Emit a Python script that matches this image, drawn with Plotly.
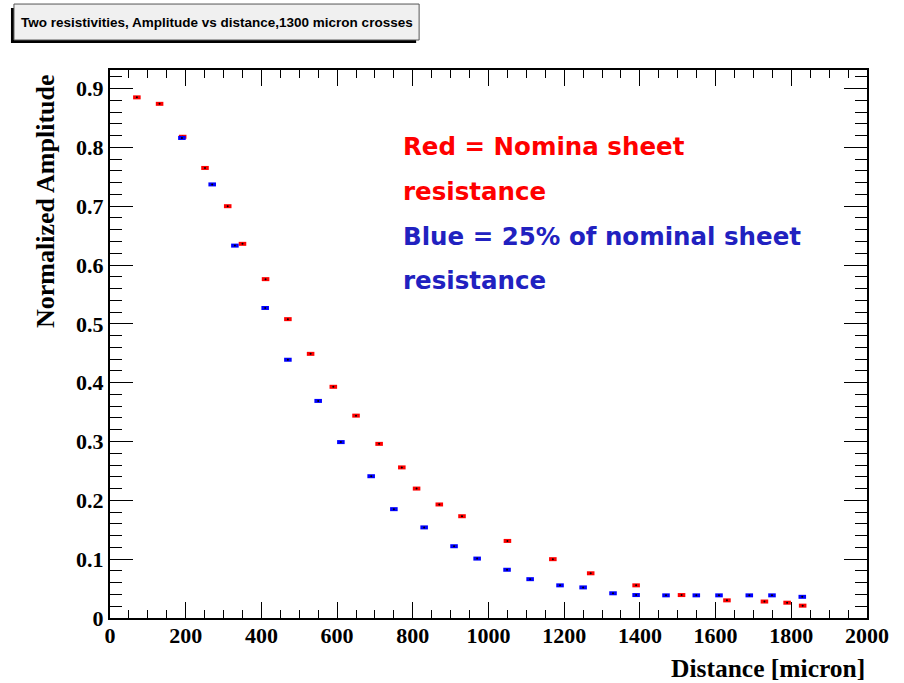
import plotly.graph_objects as go

# ---- data ----
red_x = [71, 131, 192, 251, 311, 350, 411, 470, 530, 590, 650, 711, 771, 810, 870, 930,
         1050, 1170, 1270, 1390, 1510, 1630, 1729, 1789, 1830]
red_y = [0.885, 0.874, 0.818, 0.765, 0.700, 0.636, 0.576, 0.508, 0.449, 0.393, 0.344, 0.296,
         0.256, 0.220, 0.193, 0.173, 0.131, 0.100, 0.076, 0.0555, 0.039, 0.030, 0.028, 0.026, 0.021]
blue_x = [190, 270, 330, 410, 470, 550, 610, 690, 750, 830, 909, 970, 1049, 1110, 1189, 1250,
          1329, 1390, 1469, 1549, 1609, 1689, 1749, 1829]
blue_y = [0.816, 0.737, 0.633, 0.527, 0.439, 0.369, 0.299, 0.241, 0.185, 0.154, 0.122, 0.101,
          0.082, 0.066, 0.0555, 0.052, 0.042, 0.039, 0.0385, 0.0385, 0.0385, 0.0385, 0.0385, 0.036]
x_err = 10

title_text = "Two resistivities, Amplitude vs distance,1300 micron crosses"
x_title = "Distance [micron]"
y_title = "Normalized Amplitude"
legend_lines = [("Red = Nomina sheet", "#ff0000"), ("resistance", "#ff0000"),
                ("Blue = 25% of nominal sheet", "#2121c0"), ("resistance", "#2121c0")]

# ---- layout geometry (pixels) ----
W, H = 904, 683
L, R, T, B = 110, 37.3, 70, 64.7
PW, PH = W - L - R, H - T - B


def px(x):
    return (x - L) / PW


def py(y):
    return (H - B - y) / PH


fig = go.Figure()
for xs, ys, col in [(red_x, red_y, "#ff0000"), (blue_x, blue_y, "#0000ff")]:
    fig.add_trace(go.Scatter(
        x=xs, y=ys, mode="markers",
        marker=dict(color="black", size=2, line=dict(width=0)),
        error_x=dict(type="constant", value=x_err, color=col, thickness=4, width=0),
        showlegend=False, hoverinfo="x+y"))

tickfont = dict(family="Liberation Serif", size=22, color="black", weight="bold")
fig.update_xaxes(range=[0, 2000], dtick=200, tick0=0, ticks="inside", ticklen=16,
                 tickwidth=1, tickcolor="black", showline=True, linewidth=2, linecolor="black",
                 mirror="ticks", showgrid=False, zeroline=False, tickfont=tickfont,
                 ticklabelstandoff=-3,
                 minor=dict(dtick=50, ticks="inside", ticklen=8, tickcolor="black", tickwidth=1,
                            showgrid=False))
fig.update_yaxes(range=[0, 0.9315], dtick=0.1, tick0=0, ticks="inside", ticklen=23,
                 tickwidth=1, tickcolor="black", showline=True, linewidth=2, linecolor="black",
                 mirror="ticks", showgrid=False, zeroline=False, tickfont=tickfont,
                 minor=dict(dtick=0.02, ticks="inside", ticklen=12, tickcolor="black", tickwidth=1,
                            showgrid=False))

shapes = [
    dict(type="rect", xref="paper", yref="paper", x0=px(11), x1=px(416), y0=py(43), y1=py(8),
         fillcolor="black", line=dict(width=0), layer="above"),
    dict(type="rect", xref="paper", yref="paper", x0=px(14), x1=px(419), y0=py(40), y1=py(4),
         fillcolor="#f0f0f0", line=dict(width=1, color="#555555"), layer="above"),
]

annotations = [
    dict(text="<b>%s</b>" % title_text, xref="paper", yref="paper", x=px(216.5), y=py(22),
         xanchor="center", yanchor="middle", showarrow=False,
         font=dict(family="Liberation Sans", size=13.5, color="black")),
    dict(text="<b>%s</b>" % x_title, xref="paper", yref="paper", x=1.0, y=py(669),
         xanchor="right", yanchor="middle", showarrow=False,
         font=dict(family="Liberation Serif", size=25.5, color="black")),
    dict(text="<b>%s</b>" % y_title, xref="paper", yref="paper", x=px(46), y=py(72),
         xanchor="center", yanchor="top", textangle=-90, showarrow=False,
         font=dict(family="Liberation Serif", size=26, color="black")),
]
for (txt, col), yc in zip(legend_lines, [147, 192, 237, 281]):
    annotations.append(dict(text="<b>%s</b>" % txt, xref="paper", yref="paper", x=px(401), y=py(yc),
                            xanchor="left", yanchor="middle", showarrow=False,
                            font=dict(family="DejaVu Sans", size=24.5, color=col)))

fig.update_layout(width=W, height=H, margin=dict(l=L, r=R, t=T, b=B),
                  paper_bgcolor="white", plot_bgcolor="white",
                  shapes=shapes, annotations=annotations)

fig.write_html("out.html")
